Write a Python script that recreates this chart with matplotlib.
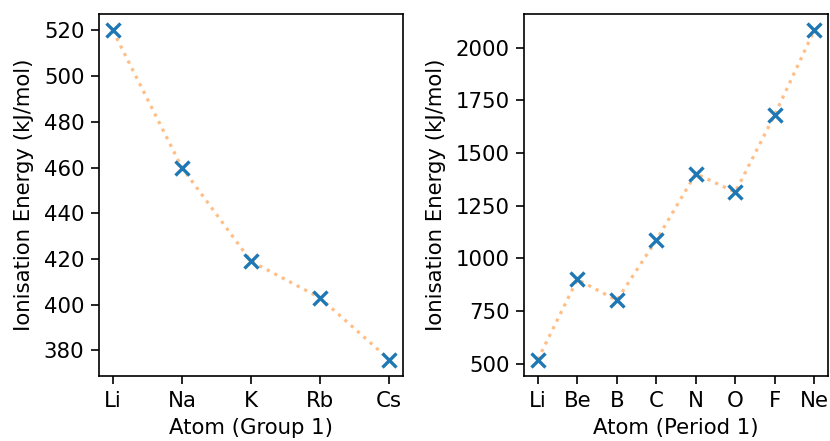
import matplotlib
matplotlib.use("Agg")
import matplotlib.pyplot as plt

group_atoms = ["Li", "Na", "K", "Rb", "Cs"]
group_energy = [520, 460, 419, 403, 376]

period_atoms = ["Li", "Be", "B", "C", "N", "O", "F", "Ne"]
period_energy = [520, 900, 801, 1086, 1402, 1314, 1681, 2081]

plt.rcParams['font.size'] = 15.3
plt.rcParams['axes.linewidth'] = 1.2

W, H = 830, 441
fig = plt.figure(figsize=(W / 100, H / 100), dpi=100)
ax1 = fig.add_axes([99 / W, 1 - 376 / H, (403 - 99) / W, (376 - 14) / H])
ax2 = fig.add_axes([524 / W, 1 - 376 / H, (828 - 524) / W, (376 - 14) / H])

for ax, atoms, vals, lab in [(ax1, group_atoms, group_energy, "Atom (Group 1)"),
                             (ax2, period_atoms, period_energy, "Atom (Period 1)")]:
    ax.plot(atoms, vals, linestyle=":", color="#ff7f0e", alpha=0.5, lw=2.3)
    ax.plot(atoms, vals, linestyle="none", marker="x", color="#1f77b4",
            ms=9.5, mew=2.4)
    ax.set_xlabel(lab, labelpad=5)
    ax.set_ylabel("Ionisation Energy (kJ/mol)", labelpad=7)
    ax.tick_params(width=1.2, length=5.5, pad=5)

ax2.set_yticks([500, 750, 1000, 1250, 1500, 1750, 2000])

fig.savefig("out.png", dpi=100)
